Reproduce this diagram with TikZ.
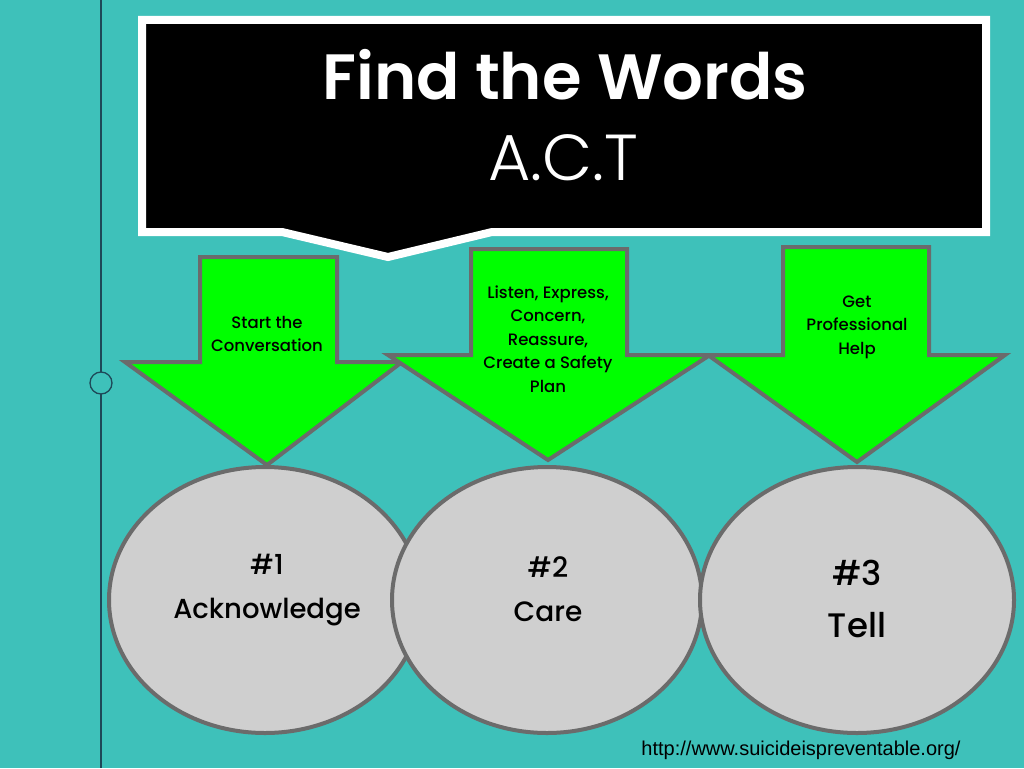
\documentclass[tikz,border=0pt]{standalone}
\usepackage{fontspec}
\setmainfont{Poppins}
\newfontfamily\poplight{Poppins Light}
\newfontfamily\popmed{Poppins Medium}
\newfontfamily\popsemi{Poppins SemiBold}
\newfontfamily\urlfont{Liberation Sans}
\definecolor{bgteal}{RGB}{62,193,186}
\definecolor{lineblue}{RGB}{30,72,88}
\definecolor{edgegray}{RGB}{107,107,107}
\definecolor{arrowgreen}{RGB}{0,255,0}
\definecolor{discgray}{RGB}{207,207,207}
\tikzset{
  bigarrow/.style={fill=arrowgreen, draw=edgegray, line width=4pt, line join=miter},
  disc/.style={fill=discgray, draw=edgegray, line width=4pt},
  arrowtext/.style={align=center, font=\popmed\fontsize{16.5}{23.5}\selectfont, text=black, inner sep=0pt},
  disctext/.style={align=center, text=black, inner sep=0pt},
}
\begin{document}
\begin{tikzpicture}[x=1pt,y=-1pt]
\useasboundingbox (0,0) rectangle (1024,768);
\fill[bgteal] (0,0) rectangle (1024,768);
% left margin line with small circle
\draw[lineblue, line width=1.3pt] (101,0) -- (101,372);
\draw[lineblue, line width=1.3pt] (101,394) -- (101,768);
\draw[lineblue, line width=1.3pt, fill=bgteal] (101,383) circle (11);
% callout box
\draw[fill=black, draw=white, line width=8pt, line join=miter]
  (142,20) -- (986,20) -- (986,232) -- (492,232) -- (388,257) -- (282,232) -- (142,232) -- cycle;
\node[text=white, font=\popsemi\fontsize{64}{64}\selectfont, inner sep=0pt] (title) at (565,75) {Find the Words};
\node[text=white, font=\poplight\fontsize{65}{65}\selectfont, inner sep=0pt] (act) at (563,158) {A.C.T};
% arrows
\draw[bigarrow] (200,257) -- (337,257) -- (337,362) -- (402,362) -- (267,465) -- (125,362) -- (200,362) -- cycle;
\draw[bigarrow] (471,249) -- (627,249) -- (627,355) -- (710,355) -- (548,460) -- (388,355) -- (471,355) -- cycle;
\draw[bigarrow] (783,247) -- (929,247) -- (929,355) -- (1005,355) -- (857,462) -- (708,355) -- (783,355) -- cycle;
\node[arrowtext] (a1) at (267,334) {Start the\\Conversation};
\node[arrowtext] (a2) at (548,339) {Listen, Express,\\Concern,\\Reassure,\\Create a Safety\\Plan};
\node[arrowtext] (a3) at (857,327) {Get\\Professional\\Help};
% discs
\draw[disc] (265,600) ellipse [x radius=156, y radius=133];
\draw[disc] (547,600) ellipse [x radius=155, y radius=133];
\draw[disc] (857,600) ellipse [x radius=157, y radius=133];
\node[disctext, font=\popmed\fontsize{27.5}{44}\selectfont] (c1) at (267,590) {\#1\\Acknowledge};
\node[disctext, font=\popmed\fontsize{28}{44}\selectfont] (c2) at (548,589) {\#2\\Care};
\node[disctext, font=\popmed\fontsize{34}{52}\selectfont] (c3) at (857,599) {\#3\\Tell};
% source
\node[font=\urlfont\fontsize{20}{22}\selectfont, text=black, inner sep=0pt] (src) at (801,750) {http://www.suicideispreventable.org/};
\end{tikzpicture}
\end{document}
